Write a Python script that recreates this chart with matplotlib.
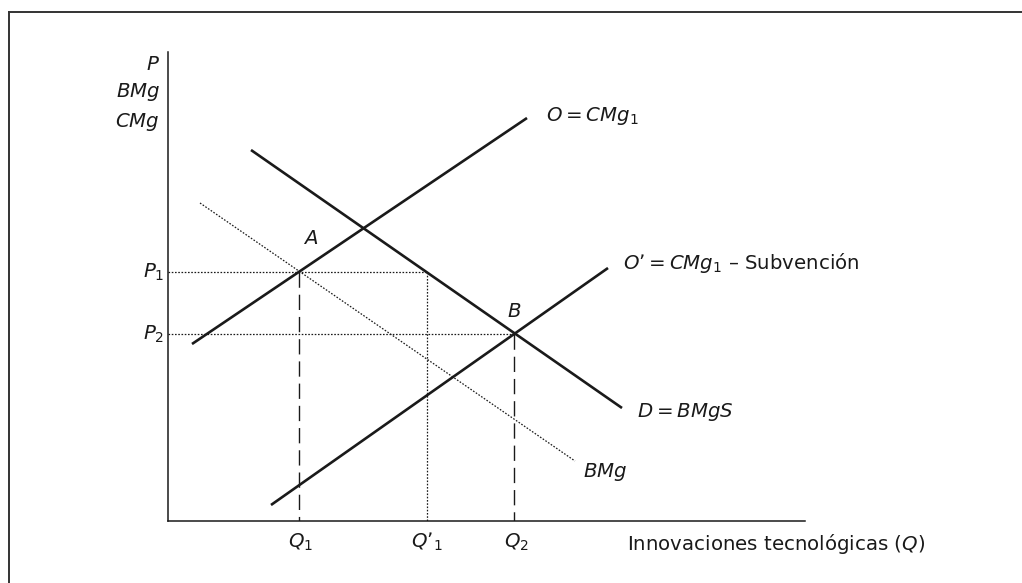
import matplotlib
matplotlib.use("Agg")
import matplotlib.pyplot as plt
from matplotlib.lines import Line2D

plt.rcParams["font.family"] = ["DejaVu Sans"]
plt.rcParams["mathtext.fontset"] = "dejavusans"

# curve endpoints (Q, P)
oferta_q = [24, 359]
oferta_p = [177, 403]
oferta_sub_q = [103, 440]
oferta_sub_p = [16, 253]
demanda_q = [83, 454]
demanda_p = [371, 113]
bmg_q = [32, 407]
bmg_p = [318, 60]

# equilibrium levels
p1, p2 = 249, 187
q1, q1_prima, q2 = 131, 259, 346

INK = "#1a1a1a"
FS = 14.2

fig = plt.figure(figsize=(10.22, 5.83), dpi=100)
ax = fig.add_axes([168 / 1022, 62 / 583, 637 / 1022, 469 / 583])
ax.set_xlim(0, 637)
ax.set_ylim(0, 469)
for side in ("top", "right"):
    ax.spines[side].set_visible(False)
for side in ("left", "bottom"):
    ax.spines[side].set_color(INK)
    ax.spines[side].set_linewidth(1.1)
ax.set_xticks([])
ax.set_yticks([])

# outer frame: top and left rules only
fig.add_artist(Line2D([9 / 1022, 1], [1 - 11.7 / 583] * 2, transform=fig.transFigure,
                      color="#333333", lw=1.4))
fig.add_artist(Line2D([9 / 1022] * 2, [0, 1 - 11.7 / 583], transform=fig.transFigure,
                      color="#333333", lw=1.4))

solid = dict(color=INK, lw=1.9, solid_capstyle="butt")
ax.plot(oferta_q, oferta_p, **solid)
ax.plot(oferta_sub_q, oferta_sub_p, **solid)
ax.plot(demanda_q, demanda_p, **solid)
ax.plot(bmg_q, bmg_p, color=INK, lw=0.9, linestyle=(0, (1.3, 1.3)))

dotted = dict(color=INK, lw=0.9, linestyle=(0, (1.3, 1.3)))
ax.plot([0, q1_prima], [p1, p1], **dotted)
ax.plot([0, q2], [p2, p2], **dotted)
ax.plot([q1_prima, q1_prima], [p1, 0], **dotted)

dashed = dict(color=INK, lw=1.0, linestyle=(0, (11, 5)))
ax.plot([q1, q1], [p1, 0], **dashed)
ax.plot([q2, q2], [p2, 0], **dashed)

txt = dict(fontsize=FS, color=INK, clip_on=False)
ax.text(-8, 457, "$P$", ha="right", va="center", **txt)
ax.text(-8, 429, "$BMg$", ha="right", va="center", **txt)
ax.text(-8, 399, "$CMg$", ha="right", va="center", **txt)

ax.text(378, 400, r"$O = CMg_1$", ha="left", va="baseline", **txt)
ax.text(455, 252, r"$O’ = CMg_1$ – Subvención", ha="left", va="baseline", **txt)
ax.text(469, 104, r"$D = BMgS$", ha="left", va="baseline", **txt)
ax.text(415, 44, "$BMg$", ha="left", va="baseline", **txt)

ax.text(143, 277, "$A$", ha="center", va="baseline", **txt)
ax.text(q2, 204, "$B$", ha="center", va="baseline", **txt)

ax.text(-4, p1 - 6, "$P_1$", ha="right", va="baseline", **txt)
ax.text(-4, p2 - 6, "$P_2$", ha="right", va="baseline", **txt)

ax.text(q1 - 11, -27, "$Q_1$", ha="left", va="baseline", **txt)
ax.text(q1_prima - 16, -27, "$Q’_1$", ha="left", va="baseline", **txt)
ax.text(q2 - 10, -27, "$Q_2$", ha="left", va="baseline", **txt)
ax.text(459, -29, "Innovaciones tecnológicas ($Q$)", ha="left", va="baseline", **txt)

fig.savefig("out.png", dpi=100)
